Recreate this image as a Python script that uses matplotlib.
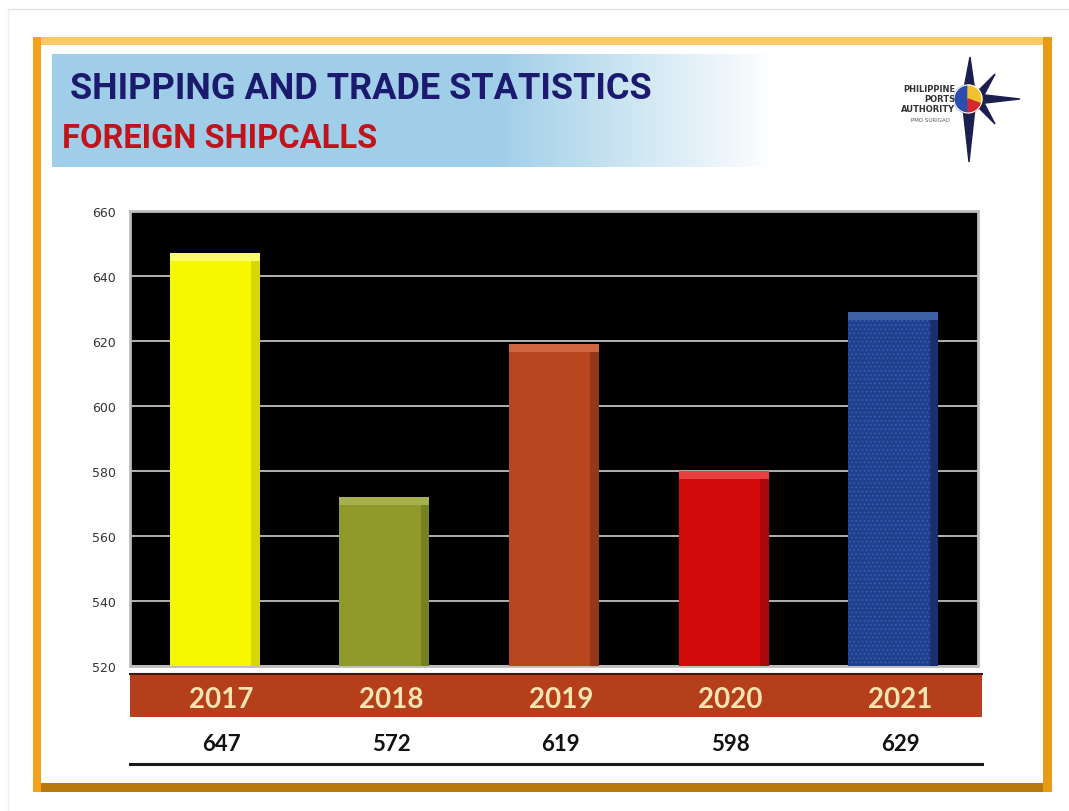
import numpy as np
import matplotlib
matplotlib.use("Agg")
import matplotlib.pyplot as plt
from matplotlib.patches import Rectangle, Polygon, Wedge, Circle

# datos
years = ["2017", "2018", "2019", "2020", "2021"]
bar_heights = [647, 572, 619, 580, 629]
value_labels = ["647", "572", "619", "598", "629"]
yticks = [520, 540, 560, 580, 600, 620, 640, 660]

bar_colors = ["#F7F700", "#8F9A2B", "#B8461F", "#D30A0A", "#203F8C"]
side_colors = ["#D6D600", "#778123", "#953818", "#AA0808", "#18306E"]
top_colors = ["#FAFA6A", "#A7B04F", "#D0663F", "#E84040", "#3F5FA6"]

W, H = 1069, 812
plt.rcParams["hatch.linewidth"] = 0.6
fig = plt.figure(figsize=(W / 100, H / 100), dpi=100)
fig.patch.set_facecolor("white")

# fondo en coordenadas de pixel
bg = fig.add_axes([0, 0, 1, 1], zorder=0)
bg.set_xlim(0, W)
bg.set_ylim(H, 0)
bg.axis("off")

# borde gris tenue de la pagina
bg.plot([8, W], [10, 10], color="#E4E4E4", lw=1)
bg.plot([8, 8], [10, H], color="#EEEEEE", lw=1)

# marco dorado
bg.add_patch(Rectangle((33, 38), 1019, 8, color="#FCC766", lw=0))
bg.add_patch(Rectangle((33, 784), 1019, 9, color="#B97A0C", lw=0))
bg.add_patch(Rectangle((33, 38), 8, 755, color="#F4A21E", lw=0))
bg.add_patch(Rectangle((1043, 38), 9, 755, color="#E69A1A", lw=0))

# banda del titulo con degradado
grad = np.ones((2, 400, 4))
t = np.linspace(0, 1, 400)
fade = np.clip((t - 0.62) / 0.38, 0, 1)
base = np.array([0.63, 0.81, 0.91])
for c in range(3):
    grad[:, :, c] = base[c] + (1 - base[c]) * fade
bg.imshow(grad, extent=[52, 775, 168, 55], aspect="auto", zorder=1)

title_font = ["Roboto", "DejaVu Sans"]
bg.text(70, 89, "SHIPPING AND TRADE STATISTICS", fontsize=26, fontweight="bold",
        color="#1B1A6E", family=title_font, va="center", ha="left", zorder=2)
bg.text(62, 139, "FOREIGN SHIPCALLS", fontsize=23.5, fontweight="bold",
        color="#C0141C", family=title_font, va="center", ha="left", zorder=2)

# logo
navy = "#1B1F4F"
bg.add_patch(Polygon([(970, 58), (976, 100), (969, 163), (962, 100)], color=navy, zorder=2))
bg.add_patch(Polygon([(968, 94), (1020, 100), (968, 106)], color=navy, zorder=2))
bg.add_patch(Polygon([(978, 92), (995, 75), (984, 96)], color=navy, zorder=2))
bg.add_patch(Polygon([(978, 108), (995, 125), (984, 104)], color=navy, zorder=2))
bg.add_patch(Wedge((968, 100), 14, 90, 270, color="#2B4DB0", zorder=3))
bg.add_patch(Wedge((968, 100), 14, -90, 20, color="#F2C12E", zorder=3))
bg.add_patch(Wedge((968, 100), 14, 20, 90, color="#D7282F", zorder=3))
bg.add_patch(Circle((968, 100), 14, fill=False, ec="white", lw=0.8, zorder=3))
for txt, yy in [("PHILIPPINE", 90), ("PORTS", 100), ("AUTHORITY", 110)]:
    bg.text(955, yy, txt, fontsize=6, fontweight="bold", color="#333333",
            ha="right", va="center", zorder=3)
bg.text(950, 121, "PMO SURIGAO", fontsize=4, color="#555555", ha="right",
        va="center", zorder=3)

# banda de anos y linea inferior
bg.add_patch(Rectangle((130, 675), 852, 43, color="#B53F1B", lw=0, zorder=1))
bg.plot([130, 982], [675, 675], color="#3A1A10", lw=1.5, zorder=2)
bg.plot([130, 982], [765, 765], color="#1A1A1A", lw=2.2, zorder=2)

# grafico de barras
ax = fig.add_axes([130 / W, 1 - 667 / H, 848 / W, 455 / H], zorder=1)
ax.set_facecolor("black")
x = np.arange(len(years))
bw = 0.53
ax.bar(x, [h - 520 for h in bar_heights], bottom=520, width=bw,
       color=bar_colors, lw=0, zorder=3)
# textura punteada de la barra azul
ax.bar(x[-1:], [bar_heights[-1] - 520], bottom=520, width=bw,
       color="none", edgecolor="#3D60B5", hatch="....", lw=0, zorder=4)
# biselado: lado derecho oscuro y borde superior claro
ax.bar(x + bw / 2 - 0.025, [h - 520 for h in bar_heights], bottom=520,
       width=0.05, color=side_colors, lw=0, zorder=5)
ax.bar(x, [2.4] * len(x), bottom=[h - 2.4 for h in bar_heights], width=bw,
       color=top_colors, lw=0, zorder=6)

ax.set_xlim(-0.5, 4.5)
ax.set_ylim(520, 660)
ax.set_yticks(yticks)
ax.set_yticklabels([str(v) for v in yticks], fontsize=9, color="#333333")
ax.set_xticks([])
ax.tick_params(axis="y", length=0, pad=10)
ax.grid(axis="y", color="#CFCFCF", lw=1.2, zorder=1)
ax.set_axisbelow(True)
for sp in ax.spines.values():
    sp.set_color("#BDBDBD")
    sp.set_linewidth(2)

# etiquetas de anos y valores
tr = ax.get_xaxis_transform()
for i in range(len(years)):
    ax.text(x[i] + 0.04, -0.073, years[i], transform=tr, ha="center", va="center",
            fontsize=20, fontweight="bold", color="#F8E4B0", family="Lato",
            clip_on=False)
    ax.text(x[i] + 0.04, -0.17, value_labels[i], transform=tr, ha="center",
            va="center", fontsize=16, fontweight="bold", color="#111111",
            family="Lato", clip_on=False)

plt.savefig("out.png", dpi=100)
